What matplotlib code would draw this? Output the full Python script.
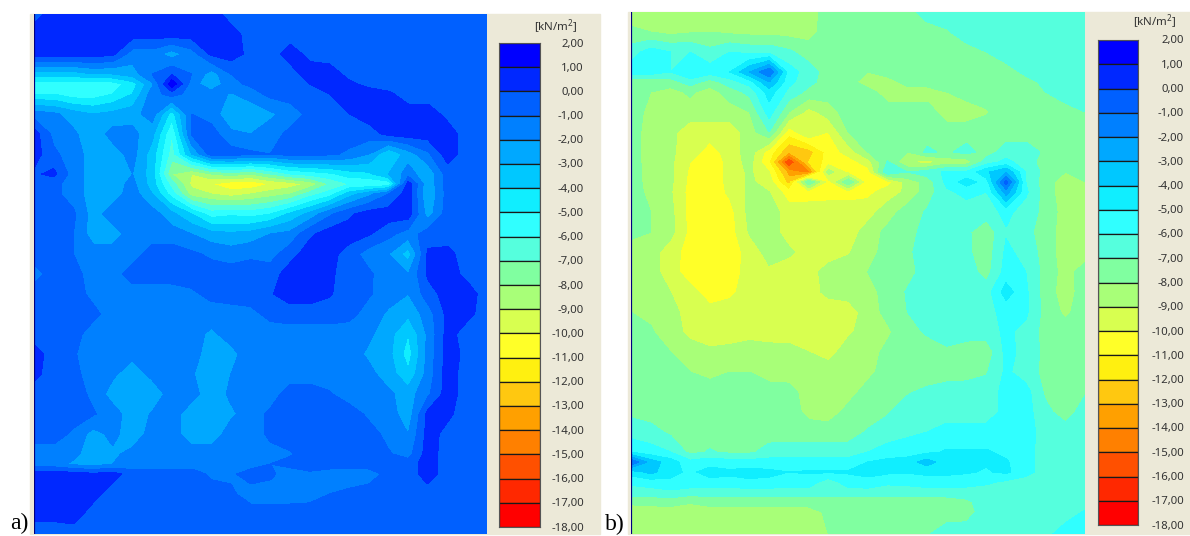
import numpy as np
import matplotlib
matplotlib.use("Agg")
import matplotlib.pyplot as plt

W, H = 1190, 536

# legend
levels = [2, 1, 0, -1, -2, -3, -4, -5, -6, -7, -8, -9, -10, -11, -12, -13, -14, -15, -16, -17, -18]
band_colors = ["#0000FF", "#0028FF", "#0060FF", "#0080FF", "#00A8FF", "#00C8FF", "#10EEFF", "#30FFFF",
               "#55FFDD", "#80FFA0", "#A8FF78", "#D8FF50", "#FFFF28", "#FFF010", "#FFC810", "#FFA000",
               "#FF8000", "#FF5000", "#FF2800", "#FF0000"]
unit_label = "[kN/m$^{2}$]"

# panel a, values in kN/m2 read on a grid
rows_a = [14, 34, 54, 74, 84, 94, 114, 134, 154, 174, 184, 194, 214, 234, 254, 274, 294, 314, 334, 354,
          374, 394, 414, 434, 454, 464, 474, 494, 514, 534]
values_a = [
    [-.5, .5, .5, .5, .5, .5, .5, .5, .5, .5, -.5, -.5, -.5, -.5, -.5, -.5, -.5, -.5, -.5, -.5, -.5, -.5, -.5, -.5],
    [.5, .5, .5, .5, .5, .5, .5, .5, .5, .5, .5, -.5, -.5, -.5, -.5, -.5, -.5, -.5, -.5, -.5, -.5, -.5, -.5, -.5],
    [.5, .5, .5, .5, .2, -1.5, -1.5, -2.5, -1.5, .2, .5, -.3, -.5, .5, -.3, -.5, -.5, -.5, -.5, -.5, -.5, -.5, -.5, -.5],
    [-3.5, -3.5, -3.5, -3, -3, -2.5, -1, 0, -1, -2.5, -1, -.8, -.5, -.5, .5, .5, -.3, -.5, -.5, -.5, -.5, -.5, -.5, -.5],
    [-5.5, -5.5, -5.5, -5.5, -5.5, -4.5, -2.2, 1.7, -1.5, -2.8, -1.3, -.8, -.5, -.5, 0, .5, .2, -.3, -.5, -.5, -.5, -.5, -.5, -.5],
    [-5, -5, -5.6, -5.6, -5, -4, -1.5, -.5, -1.5, -1.5, -2.1, -1.5, -.7, -.5, -.5, 0, .5, .5, .2, -.5, -.5, -.5, -.5, -.5],
    [-1.5, -1.8, -2.5, -3, -2.7, -2.4, -1.5, -4.5, -1, -1.5, -2.7, -2.8, -2.2, -1.6, -.7, -.5, 0, .5, .5, .5, .5, -.3, -.5, -.5],
    [.5, -1.3, -1.8, -2.7, -1.6, -1.7, -2.7, -6, -.9, -.5, -1.8, -2, -1.5, -.7, -.5, -.5, -.5, -.5, .3, .5, .5, .5, -.5, -.5],
    [.5, -.8, -1.5, -2.5, -2.5, -1.6, -3.5, -6.5, -3, -.5, -.5, -.8, -1, -.6, -.6, -.8, -1.2, -2, -4, -2.5, -1.2, .5, -.5, -.5],
    [-.2, .3, -1.5, -2.5, -2.5, -2, -3.5, -8, -9, -8, -7.5, -8, -7, -6, -5.6, -5.2, -4.5, -4.2, -3, -1.5, -2.8, -.5, -.5, -.5],
    [-.5, -.7, -1.5, -2.5, -2.5, -1.7, -3.5, -6.5, -9.3, -10, -10.7, -10.8, -10, -9.6, -8.8, -7, -6, -6, -5.8, .5, -2.8, -.5, -.5, -.5],
    [-.5, -.7, -1.5, -2.5, -2.5, -1.5, -3, -5.5, -8.5, -9, -9.5, -9, -8.5, -8, -6.5, -5.5, -3.5, -2.3, -1, .5, -3, -.6, -.5, -.5],
    [-.5, -.5, -.8, -2.5, -1.5, -1.5, -1.5, -2.7, -4, -5.5, -5.2, -5.4, -5, -3.8, -2.7, -1.2, -.2, .5, .5, .5, -2.5, -.5, -.5, -.5],
    [-.5, -.5, -1, -2.5, -2.5, -1.5, -1.5, -1.5, -2, -2.6, -2.8, -2.6, -2, -1.7, -.2, .5, .5, .1, -.7, -1.5, -.5, -.5, -.5, -.5],
    [-.5, -.5, -1, -1.5, -1.5, -1.5, -.5, -.5, -.8, -1.2, -1.5, -1.2, -1.4, -.4, .5, .4, -.5, -1.5, -2, -3.5, .2, .3, -.5, -.5],
    [-1.5, -.5, -.6, -1.5, -1.5, -.5, -.5, -.5, -.5, -.5, -.5, -.5, -.5, .5, .5, .2, -.5, -.8, -1.7, -2, .2, .5, -.3, -.5],
    [-.5, -.5, -.5, -1.3, -1.5, -1.5, -1.5, -1.5, -1.2, -.7, -.5, -.5, -.1, .5, .5, .1, -.5, -.9, -1.5, -2, -.5, .5, .5, -.5],
    [-.5, -.5, -.5, -.7, -1.5, -1.5, -1.5, -1.5, -1.5, -1.5, -1.5, -1.3, -.7, -.5, -.5, -.5, -.7, -1.4, -2.2, -2.8, -1.5, .3, .3, -.5],
    [-.5, -.5, -.6, -1.5, -1.5, -1.5, -1.5, -1.5, -1.6, -2.2, -1.6, -1.5, -1.5, -1.5, -1.5, -1.5, -1.5, -1.8, -2.6, -4, -1.8, .4, -.5, -.5],
    [.5, -.5, -.9, -1.5, -1.5, -1.7, -1.5, -1.5, -1.5, -2.6, -2.3, -1.5, -1.5, -1.5, -1.5, -1.5, -1.5, -2.2, -2.7, -4.5, -1.7, .5, -.3, -.5],
    [.3, -.5, -.7, -1.5, -1.8, -2.6, -1.7, -1.5, -1.9, -2.6, -2, -1.5, -1.5, -1.5, -1.5, -1.5, -1.5, -1.7, -2.5, -3.8, -1.6, .5, -.5, -.5],
    [-.5, -.5, -.6, -1.2, -2.5, -2.7, -2.7, -1.5, -1.6, -2.6, -1.8, -1.5, -1.5, -.5, -.5, -.9, -1.5, -1.6, -1.8, -2.5, -1.2, .5, -.5, -.5],
    [-.5, -.5, -.5, -.9, -1.5, -2.6, -1.9, -1.5, -2.6, -2.7, -2.2, -1.5, -.8, -.5, -.5, -.5, -.5, -1.2, -1.5, -2.6, .3, .2, -.5, -.5],
    [-.5, -.5, -1.2, -2.4, -1.7, -2.6, -1.6, -1.5, -2.6, -2.6, -1.5, -1.5, -.8, -.5, -.5, -.5, -.5, -.6, -1.3, -2, .4, -.3, -.5, -.5],
    [-1.5, -1.5, -1.7, -2.6, -2.2, -1.7, -1.5, -1.5, -1.5, -1.5, -1.5, -1.5, -1.3, -1.1, -.5, -.5, -.5, -.5, -.9, -1.4, .5, -.5, -.5, -.5],
    [-1.6, -1.6, -2.2, -2.5, -2, -1.6, -1.5, -1.5, -1.5, -1.5, -1.8, -1.5, -1, -.7, -.5, -.5, -.5, -.5, -.5, -.5, .5, -.5, -.5, -.5],
    [.5, .5, .5, .2, .4, -.5, -.5, -.5, -.5, -1.2, -1.2, -.5, -.8, -1.5, -1.2, -1.5, -1.5, -1.5, -.7, -.5, .5, -.5, -.5, -.5],
    [.5, .5, .5, .4, -.5, -.5, -.5, -.5, -.5, -.5, -.8, -1.5, -1.5, -1.5, -1.4, -1, -.8, -.5, -.5, -.5, -.5, -.5, -.5, -.5],
    [.3, .3, .5, -.5, -.5, -.5, -.5, -.5, -.5, -.5, -.5, -.5, -.5, -.5, -.5, -.5, -.5, -.5, -.5, -.5, -.5, -.5, -.5, -.5],
    [-.5, -.5, -.5, -.5, -.5, -.5, -.5, -.5, -.5, -.5, -.5, -.5, -.5, -.5, -.5, -.5, -.5, -.5, -.5, -.5, -.5, -.5, -.5, -.5],
]

# panel b
rows_b = [12, 32, 52, 72, 82, 92, 112, 132, 152, 162, 172, 182, 192, 212, 232, 252, 272, 292, 312, 332, 352,
          372, 392, 412, 432, 452, 462, 472, 482, 492, 502, 512, 534]
values_b = [
    [-8.5, -8.5, -8.5, -8.5, -8.5, -8.5, -8.5, -8.5, -8.5, -8.5, -7.5, -7.5, -7.5, -7.5, -7.4, -6.5, -6.5, -6.5, -6.5, -6.5, -6.5, -6.5, -6.5, -6.5],
    [-7.8, -8, -8.3, -8.1, -8, -8.2, -8.3, -8.3, -8.4, -8.4, -7.5, -7.5, -7.5, -7.5, -7.5, -7.5, -7.1, -6.5, -6.5, -6.5, -6.5, -6.5, -6.5, -6.5],
    [-6.5, -5.5, -6, -6, -6.7, -6, -6.3, -6.3, -6.8, -7.5, -7.5, -7.5, -7.5, -7.5, -7.5, -7.5, -7.5, -7.4, -7, -6.5, -6.5, -6.5, -6.5, -6.5],
    [-5.5, -5.5, -6, -5, -5.5, -5, -3, -1, -5.5, -6.5, -7.5, -7.8, -8, -7.5, -7.5, -7.5, -7.5, -7.5, -7.5, -7.4, -6.8, -6.5, -6.5, -6.5],
    [-8, -7.7, -7.5, -6.5, -7.5, -6.5, -5.5, -3, -5.7, -6.7, -7.5, -7.6, -8.5, -8.5, -7.6, -7.5, -7.5, -7.5, -7.5, -7.5, -7.3, -6.8, -6.5, -6.5],
    [-7.5, -8, -8.4, -7.8, -8.5, -7.5, -6.7, -4.5, -6.3, -7.3, -7.5, -7.5, -7.6, -8.5, -8.5, -8.5, -8, -7.6, -7.5, -7.5, -7.4, -7, -6.5, -6.5],
    [-7.5, -8.3, -8.5, -8.5, -8.5, -8.5, -8, -5.5, -8, -9.4, -8.5, -7.5, -7.5, -7.5, -7.5, -7.5, -8.5, -8.5, -8.1, -7.5, -7.5, -7.5, -7.4, -7],
    [-7.5, -8.5, -8.7, -9.6, -9.6, -9.6, -8.5, -7, -10.6, -9, -10, -8, -7.3, -7.5, -7.5, -7.5, -7.5, -7.5, -7.5, -7.5, -7.5, -7.5, -7.5, -7.2],
    [-7.5, -8.5, -8.8, -9.6, -10.4, -9.6, -8.5, -10.5, -13, -12.5, -10.6, -9.6, -8, -7.7, -8, -6.8, -7.2, -6.6, -7.5, -6.5, -6.5, -7.2, -7.5, -7.5],
    [-7.5, -8.5, -8.8, -10, -10.7, -9.7, -8.6, -11, -16.5, -12, -10.6, -10.5, -9.5, -6.9, -9, -9.5, -8.6, -8.6, -6.5, -5.7, -6.5, -7.5, -7.5, -7.5],
    [-7.5, -8.4, -8.8, -10.2, -10.7, -9.7, -8.8, -10, -13.5, -14.5, -8.5, -10.3, -10.5, -6, -7, -6.5, -5.8, -5.8, -4.2, -3, -6, -7.4, -8, -7.6],
    [-7.5, -8.4, -8.8, -10.3, -10.7, -9.7, -8.8, -9.5, -12.5, -7, -10.5, -7, -10.8, -10.4, -8.6, -7.6, -5.7, -4.5, -5.5, -.5, -6, -7.6, -8.5, -8],
    [-7.5, -8.3, -8.9, -10.4, -10.7, -9.8, -8.8, -9, -10.6, -10.5, -10.4, -10.4, -10.3, -9.5, -8.8, -7.5, -6.2, -5.7, -6, -2.5, -5.8, -7.5, -8.6, -8.3],
    [-7.5, -8, -8.7, -10.4, -10.7, -10.4, -8.7, -8.5, -9.5, -9.5, -9.5, -9.5, -9.4, -8.5, -7.5, -6.9, -6.5, -6.5, -6.5, -5.7, -6.5, -7.3, -8.5, -8.5],
    [-7.7, -8, -8.7, -10.3, -10.7, -10.5, -8.9, -8.5, -9.5, -9.5, -9.5, -9.5, -8.6, -7.7, -7.4, -6.6, -6.5, -6.8, -7.7, -6.1, -6.7, -7.5, -8.5, -8.6],
    [-8.5, -8.6, -9.5, -10.5, -10.8, -10.6, -9.6, -8.6, -8.8, -9.5, -9.5, -9.1, -8.4, -7.6, -7.2, -6.5, -6.5, -6.8, -7.6, -5.8, -6.3, -7.5, -8.5, -8.6],
    [-8.5, -8.6, -9.5, -10.6, -10.8, -10.5, -9.6, -9.2, -9.6, -9.4, -8.6, -8.5, -8, -7.5, -7.4, -6.5, -6.4, -6.5, -7.4, -5.6, -6, -7.4, -8.4, -7.5],
    [-8.5, -8.6, -9, -9.6, -10.6, -10.2, -9.6, -9.6, -9.6, -9.5, -8.7, -8.5, -8.3, -7.7, -6.9, -6.5, -6.5, -6.5, -6.5, -4.5, -5.8, -7.5, -8.5, -7.5],
    [-8, -8.2, -8.6, -9.5, -9.6, -9.6, -9.6, -9.6, -9.6, -9.6, -9.7, -9.6, -8.5, -7.7, -7, -6.7, -6.5, -6.5, -6.3, -5.7, -5.8, -7.4, -8.2, -7.5],
    [-7.5, -7.9, -8.5, -9.3, -9.6, -9.5, -9.3, -9.6, -9.4, -9.6, -9.6, -9.2, -8.5, -8.2, -7.3, -6.9, -6.5, -6.5, -6.5, -5.8, -6.3, -7.4, -7.6, -7.5],
    [-7.5, -7.6, -8, -8.5, -8.8, -8.7, -8.6, -8.5, -8.7, -9, -9.4, -8.5, -8.5, -7.7, -7.3, -7.4, -7.2, -7.6, -7.7, -5.7, -6.3, -7.3, -7.5, -7.5],
    [-7.5, -7.5, -7.6, -8, -8.3, -8, -8, -8.5, -8.5, -8.5, -8.5, -8.5, -8.3, -7.5, -7.5, -7.5, -7.5, -7.4, -7.1, -5.8, -6.5, -7.3, -7.5, -7.5],
    [-7.5, -7.5, -7.5, -7.5, -7.5, -7.5, -7.5, -7.5, -7.6, -8.5, -8.5, -8.4, -7.6, -7.5, -7.1, -6.8, -6.5, -6.5, -6.5, -5.7, -5.6, -7.2, -7.5, -7.1],
    [-7.2, -7.5, -7.5, -7.5, -7.5, -7.5, -7.5, -7.5, -7.5, -8.3, -8.5, -7.7, -7.5, -7.1, -6.5, -6.5, -6.5, -6.5, -6.5, -5.7, -5.6, -6.7, -7.5, -6.5],
    [-6.5, -6.6, -7.2, -7.5, -7.5, -7.5, -7.5, -7.5, -7.5, -7.5, -7.5, -7.5, -6.9, -6.5, -6.2, -6, -5.6, -5.6, -5.6, -5.5, -5.5, -6.5, -6.5, -6.5],
    [-5, -5.6, -6, -7.3, -6.9, -7.2, -7.2, -6.6, -6.5, -6.5, -6.5, -6.5, -6, -5.6, -5.5, -5.2, -4.9, -4.9, -4.9, -5.2, -5.6, -6.5, -6.5, -6.5],
    [-1, -3.5, -4.5, -5.7, -5.4, -5.6, -5.6, -5.6, -5.6, -5.6, -5.6, -5.6, -5, -4.7, -4.5, -3.5, -4.7, -4.8, -4.9, -4.9, -5.6, -6.5, -6.5, -6.5],
    [-4.5, -3.7, -4.7, -5.2, -4.6, -4.8, -4.6, -4.8, -5, -4.9, -4.9, -4.9, -4.8, -4.8, -4.9, -4.8, -4.8, -4.9, -5.1, -4.8, -5.6, -6.5, -6.5, -6.5],
    [-5.8, -5.5, -5.2, -5.3, -5.3, -5.3, -5.2, -5.2, -5.4, -5.4, -6.6, -5.4, -5.2, -5.8, -5.7, -5.4, -5.4, -5.5, -5.8, -6.2, -6.5, -6.5, -6.5, -6.5],
    [-6.4, -6.4, -6.2, -6.5, -6.5, -6.5, -6.5, -6.5, -6.5, -6.5, -6.5, -6.5, -6.5, -6.5, -6.5, -6.5, -6.5, -6.5, -6.5, -6.5, -6.5, -6.5, -6.5, -6.5],
    [-7.8, -7.7, -7.6, -7.9, -7.6, -7.6, -7.6, -7.6, -7.6, -7.6, -7.6, -7.6, -7.6, -7.6, -7.6, -7.5, -7.5, -7.2, -6.5, -6.5, -6.5, -6.5, -6.5, -6.5],
    [-8.5, -8.5, -8.5, -8.6, -8.5, -8.5, -8.5, -8.5, -8.5, -8.4, -7.8, -7.5, -7.5, -7.5, -7.5, -7.5, -7.5, -7.4, -6.5, -6.5, -6.5, -6.5, -6.5, -5.9],
    [-8.5, -8.5, -8.5, -8.5, -8.5, -8.5, -8.5, -8.5, -8.5, -8.5, -8, -7.5, -7.5, -7.5, -7.5, -7.1, -6.5, -6.5, -6.5, -6.5, -6.5, -6.3, -5.5, -5.5],
]


def axes_px(fig, left, top, right, bottom, **kw):
    # axes placed with picture pixels, y counted from the top
    return fig.add_axes([left / W, 1 - bottom / H, (right - left) / W, (bottom - top) / H], **kw)


def draw_field(fig, left, right, rows, values):
    top, bottom = rows[0], rows[-1]
    ax = axes_px(fig, left, top, right, bottom)
    xs = np.linspace(left, right, len(values[0]))
    ax.contourf(xs, rows, np.array(values), levels=levels[::-1], colors=band_colors[::-1], antialiased=False)
    ax.set_xlim(left, right)
    ax.set_ylim(bottom, top)
    ax.axis("off")
    return ax


def draw_legend(fig, left, top, right, bottom, label_x, unit_xy):
    ax = axes_px(fig, left, top, right, bottom)
    for hi, lo, color in zip(levels[:-1], levels[1:], band_colors):
        ax.bar(0.5, hi - lo, bottom=lo, width=1, color=color, edgecolor="#1a1a1a", linewidth=0.9)
    ax.set_xlim(0, 1)
    ax.set_ylim(-18, 2)
    ax.set_xticks([])
    ax.set_yticks([])
    for spine in ax.spines.values():
        spine.set_color("#555555")
    for lev in levels:
        ax.annotate(f"{lev},00", xy=(1, lev), xycoords=("axes fraction", "data"),
                    xytext=(label_x - right, -1), textcoords="offset pixels",
                    ha="right", va="center", fontsize=8.2, color="#333333", family="Noto Sans")
    fig.text(unit_xy[0] / W, 1 - unit_xy[1] / H, unit_label, ha="center", va="center",
             fontsize=8.3, color="#333333", family="Noto Sans")


plt.rcParams["mathtext.default"] = "regular"
fig = plt.figure(figsize=(W / 100, H / 100), dpi=100, facecolor="white")

beige = "#ECE9D8"
fig.patches.append(plt.Rectangle((30 / W, 1 - 534 / H), 570 / W, 520 / H, transform=fig.transFigure, color=beige, zorder=-1))
fig.patches.append(plt.Rectangle((628 / W, 1 - 534 / H), 562 / W, 522 / H, transform=fig.transFigure, color=beige, zorder=-1))

ax_a = draw_field(fig, 34, 487, rows_a, values_a)
ax_b = draw_field(fig, 631, 1085, rows_b, values_b)
for ax in (ax_a, ax_b):
    ax.axvline(ax.get_xlim()[0], color="#000080", lw=1.6, clip_on=True)

draw_legend(fig, 499, 43, 540, 527, 584, (556, 27))
draw_legend(fig, 1098, 40, 1138, 525, 1184, (1155, 22))

fig.text(10 / W, 1 - 534 / H, "a)", family="Liberation Serif", fontsize=17, color="black", va="bottom")
fig.text(605 / W, 1 - 535 / H, "b)", family="Liberation Serif", fontsize=17, color="black", va="bottom")

fig.savefig("out.png", dpi=100, facecolor="white")
